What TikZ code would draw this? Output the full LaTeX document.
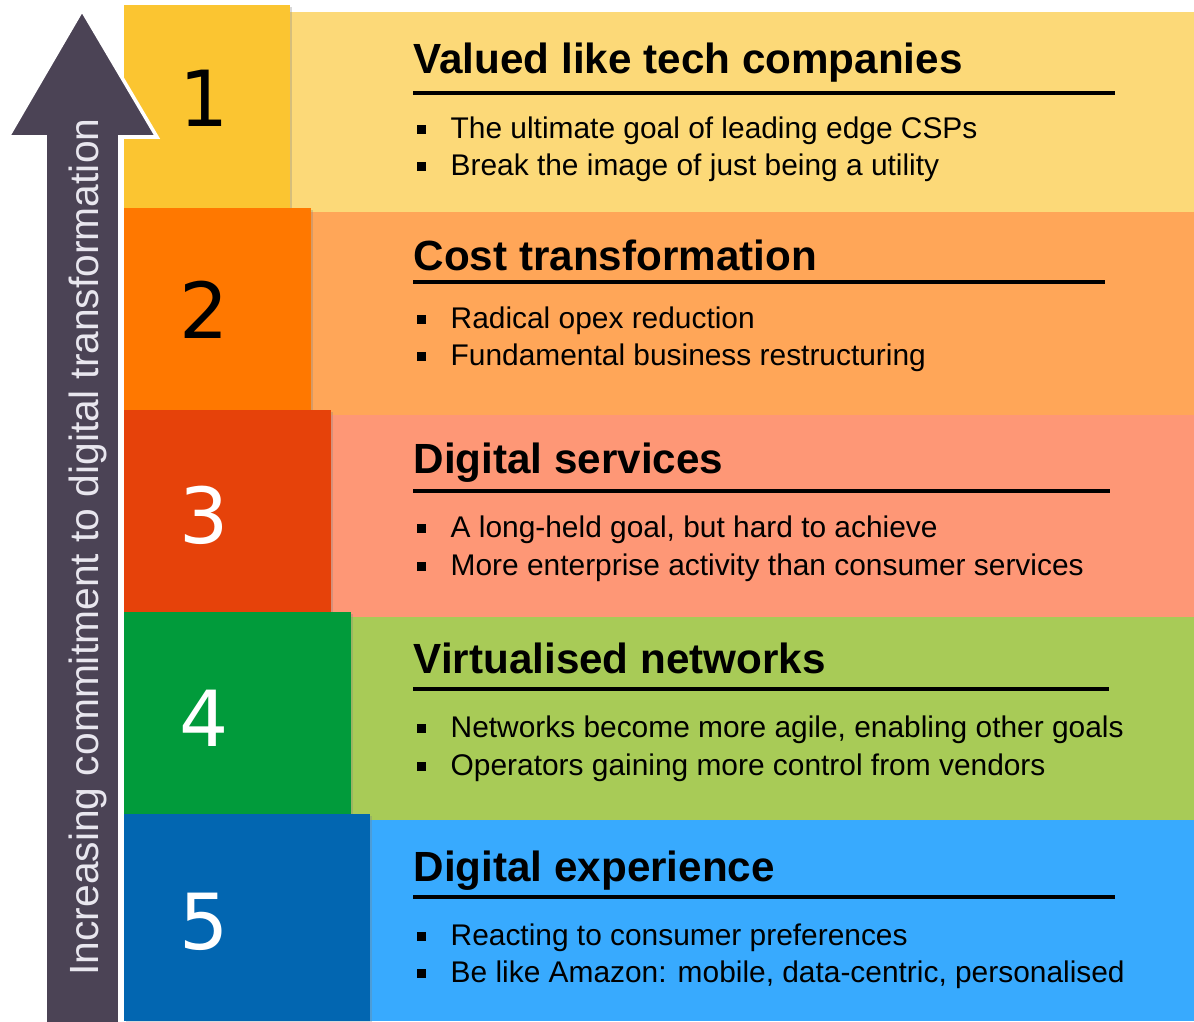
\documentclass[tikz,border=0pt]{standalone}
\usepackage{fontspec}
\setmainfont{Liberation Sans}
\newfontfamily\numfont{DejaVu Sans}
\usetikzlibrary{shadows}

\definecolor{arrowgray}{HTML}{4B4355}
\definecolor{arrowtext}{HTML}{E8E6EE}
\definecolor{boxone}{HTML}{FBC531}
\definecolor{bandone}{HTML}{FCD978}
\definecolor{boxtwo}{HTML}{FF7800}
\definecolor{bandtwo}{HTML}{FFA658}
\definecolor{boxthree}{HTML}{E6420A}
\definecolor{bandthree}{HTML}{FE9776}
\definecolor{boxfour}{HTML}{019B3B}
\definecolor{bandfour}{HTML}{A8CB57}
\definecolor{boxfive}{HTML}{0266B1}
\definecolor{bandfive}{HTML}{38AAFE}

\newcommand{\sqbul}{\llap{\rule[1.2pt]{2.5pt}{2.5pt}\hspace{7pt}}}

\begin{document}
\begin{tikzpicture}[x=0.01cm, y=-0.01cm]
				\tikzstyle{every node}=[inner sep=0pt, anchor=base west]
				\tikzstyle{num}=[font=\numfont\fontsize{22}{24}\selectfont, anchor=center]
				\tikzstyle{head}=[font=\bfseries\fontsize{12}{14}\selectfont]
				\tikzstyle{item}=[font=\fontsize{8.5}{10}\selectfont]
				\tikzstyle{rule}=[line width=0.9pt]
				\tikzstyle{boxshadow}=[drop shadow={shadow xshift=0.7pt, shadow yshift=-0.7pt, opacity=0.3}]
				\useasboundingbox (0,0) rectangle (1194,1021);
				\fill[white] (0,0) rectangle (1194,1021);
				\fill[bandone] (124,12) rectangle (1194,212);
				\fill[bandtwo] (124,212) rectangle (1194,415);
				\fill[bandthree] (124,415) rectangle (1194,617);
				\fill[bandfour] (124,617) rectangle (1194,820);
				\fill[bandfive] (124,820) rectangle (1194,1021);
				\fill[boxone, boxshadow] (124,5) rectangle (290,208);
				\fill[boxtwo, boxshadow] (124,208) rectangle (311,410);
				\fill[boxthree, boxshadow] (124,410) rectangle (331,612);
				\fill[boxfour, boxshadow] (124,612) rectangle (351,814);
				\fill[boxfive, boxshadow] (124,814) rectangle (370,1021);
				\node[num] (n1) at (204,98) {1};
				\node[num] (n2) at (204,310) {2};
				\node[num, text=white] (n3) at (204,515) {3};
				\node[num, text=white] (n4) at (204,718) {4};
				\node[num, text=white] (n5) at (204,922) {5};
				\node[head] (h1) at (413,73) {Valued like tech companies};
				\draw[rule] (413,93) -- (1115,93);
				\node[item] (i11) at (450,138) {\sqbul The ultimate goal of leading edge CSPs};
				\node[item] (i12) at (450,175) {\sqbul Break the image of just being a utility};
				\node[head] (h2) at (413,270) {Cost transformation};
				\draw[rule] (413,282) -- (1105,282);
				\node[item] (i21) at (450,328) {\sqbul Radical opex reduction};
				\node[item] (i22) at (450,365) {\sqbul Fundamental business restructuring};
				\node[head] (h3) at (413,473) {Digital services};
				\draw[rule] (413,491) -- (1110,491);
				\node[item] (i31) at (450,537) {\sqbul A long-held goal, but hard to achieve};
				\node[item] (i32) at (450,575) {\sqbul More enterprise activity than consumer services};
				\node[head] (h4) at (413,673) {Virtualised networks};
				\draw[rule] (413,689) -- (1109,689);
				\node[item] (i41) at (450,737) {\sqbul Networks become more agile, enabling other goals};
				\node[item] (i42) at (450,775) {\sqbul Operators gaining more control from vendors};
				\node[head] (h5) at (413,881) {Digital experience};
				\draw[rule] (413,897) -- (1115,897);
				\node[item] (i51) at (450,945) {\sqbul Reacting to consumer preferences};
				\node[item] (i52) at (450,982) {\sqbul Be like Amazon: mobile, data-centric, personalised};
				\fill[arrowgray, draw=white, line width=1pt] (45,1040) -- (45,137) -- (8,137) -- (82,10) -- (157,137) -- (120,137) -- (120,1040) -- cycle;
				\node[rotate=90, anchor=base, text=arrowtext, font=\fontsize{11.6}{13}\selectfont] (axis) at (98,547) {Increasing commitment to digital transformation};
		\end{tikzpicture}
\end{document}
